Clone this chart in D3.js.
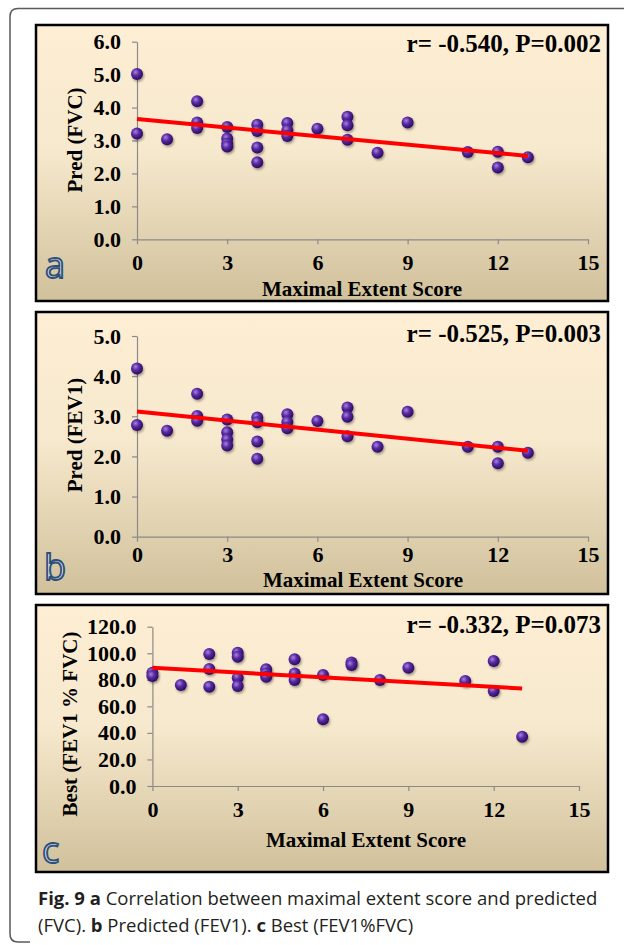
<!DOCTYPE html>
<html>
<head>
<meta charset="utf-8">
<script src="https://cdn.jsdelivr.net/npm/d3@7"></script>
<style>
  body { margin: 0; background: #fff; }
  svg { display: block; }
</style>
</head>
<body>
<script>
// values
var xTicks = [0, 3, 6, 9, 12, 15];

var scoreA = [0, 0, 1, 2, 2, 2, 3, 3, 3, 3, 4, 4, 4, 4, 5, 5, 5, 6, 7, 7, 7, 8, 9, 11, 12, 12, 13];
var predFVC = [5.02, 3.21, 3.04, 4.19, 3.55, 3.38, 3.41, 3.06, 2.90, 2.82, 3.48, 3.29, 2.79, 2.34,
    3.53, 3.31, 3.14, 3.36, 3.72, 3.46, 3.02, 2.63, 3.55, 2.65, 2.66, 2.18, 2.49];
var trendA = [3.65, 2.53];
var yTicksA = [0, 1, 2, 3, 4, 5, 6];

var scoreB = [0, 0, 1, 2, 2, 2, 3, 3, 3, 3, 4, 4, 4, 4, 5, 5, 5, 6, 7, 7, 7, 8, 9, 11, 12, 12, 13];
var predFEV1 = [4.19, 2.78, 2.64, 3.56, 3.01, 2.89, 2.92, 2.60, 2.42, 2.27, 2.97, 2.85, 2.37, 1.94,
    3.05, 2.86, 2.70, 2.88, 3.22, 2.99, 2.50, 2.24, 3.11, 2.24, 2.24, 1.83, 2.09];
var trendB = [3.12, 2.14];
var yTicksB = [0, 1, 2, 3, 4, 5];

var scoreC = [0, 0, 1, 2, 2, 2, 3, 3, 3, 3, 4, 4, 4, 5, 5, 5, 6, 6, 7, 7, 8, 9, 11, 12, 12, 13];
var bestRatio = [85.3, 82.8, 76.1, 99.4, 88.1, 74.8, 100.4, 97.4, 81.6, 75.3, 87.9, 84.8, 82.3,
    95.4, 84.8, 79.8, 83.6, 50.2, 93.1, 91.1, 79.8, 89.1, 79.1, 94.1, 71.5, 37.1];
var trendC = [89.1, 73.5];
var yTicksC = [0, 20, 40, 60, 80, 100, 120];

var trendX = [0, 13];
var panelLetters = ['a', 'b', 'c'];
var statLabels = ['r= -0.540, P=0.002', 'r= -0.525, P=0.003', 'r= -0.332, P=0.073'];
var yTitles = ['Pred (FVC)', 'Pred (FEV1)', 'Best (FEV1 % FVC)'];
var xTitle = 'Maximal Extent Score';

var W = 625, H = 945;
var serif = '"Liberation Serif", "Times New Roman", serif';

var svg = d3.select('body').append('svg')
    .attr('width', W)
    .attr('height', H);

var defs = svg.append('defs');
var bg = defs.append('linearGradient')
    .attr('id', 'panelBg')
    .attr('x1', 0).attr('y1', 0).attr('x2', 0).attr('y2', 1);
bg.append('stop').attr('offset', '0%').attr('stop-color', '#fdeed4');
bg.append('stop').attr('offset', '45%').attr('stop-color', '#f7e9cd');
bg.append('stop').attr('offset', '100%').attr('stop-color', '#d0c09b');

var ball = defs.append('radialGradient')
    .attr('id', 'ball')
    .attr('cx', '38%').attr('cy', '35%').attr('r', '65%');
ball.append('stop').attr('offset', '0%').attr('stop-color', '#a584e0');
ball.append('stop').attr('offset', '45%').attr('stop-color', '#5b2aa3');
ball.append('stop').attr('offset', '100%').attr('stop-color', '#2b0b5e');

var shadow = defs.append('filter').attr('id', 'shadow')
    .attr('x', '-50%').attr('y', '-50%').attr('width', '200%').attr('height', '200%');
shadow.append('feDropShadow')
    .attr('dx', 1.2).attr('dy', 1.8).attr('stdDeviation', 1.2)
    .attr('flood-color', '#000').attr('flood-opacity', 0.35);

var letterFill = defs.append('linearGradient')
    .attr('id', 'letterFill')
    .attr('x1', 0).attr('y1', 0).attr('x2', 0).attr('y2', 1);
letterFill.append('stop').attr('offset', '0%').attr('stop-color', '#e9f0f9');
letterFill.append('stop').attr('offset', '100%').attr('stop-color', '#b8cce6');

// outer frame of the figure
svg.append('path')
    .attr('d', 'M624,8.5 H18 Q10,8.5 10,16.5 V934 Q10,942 18,942 H30')
    .attr('fill', 'none')
    .attr('stroke', '#5a5a5a')
    .attr('stroke-width', 1.5);

var panels = [
    {box: [36, 25, 608, 301], ax: 137, ax1: 588, y0: 239.3, y1: 41.7, yMax: 6, yTicks: yTicksA,
        xs: scoreA, ys: predFVC, trend: trendA, statY: 52, tickY: 270, titleY: 296, titleX: 362,
        yTitleX: 75, yTitleY: 140, letterX: 45, letterY: 278},
    {box: [36, 312, 608, 594], ax: 137, ax1: 588, y0: 536.7, y1: 336, yMax: 5, yTicks: yTicksB,
        xs: scoreB, ys: predFEV1, trend: trendB, statY: 342, tickY: 562, titleY: 587, titleX: 363,
        yTitleX: 75, yTitleY: 435, letterX: 44, letterY: 580},
    {box: [36, 605, 608, 872], ax: 152.4, ax1: 579, y0: 786, y1: 626.7, yMax: 120, yTicks: yTicksC,
        xs: scoreC, ys: bestRatio, trend: trendC, statY: 633, tickY: 817, titleY: 847, titleX: 366,
        yTitleX: 70, yTitleY: 724, letterX: 42, letterY: 863}
];

panels.forEach(function (p, i) {
    var g = svg.append('g').attr('class', 'panel panel-' + panelLetters[i]);

    g.append('rect')
        .attr('x', p.box[0]).attr('y', p.box[1])
        .attr('width', p.box[2] - p.box[0])
        .attr('height', p.box[3] - p.box[1])
        .attr('fill', 'url(#panelBg)')
        .attr('stroke', '#000')
        .attr('stroke-width', 2.5);

    var x = d3.scaleLinear().domain([0, 15]).range([p.ax, p.ax1]);
    var y = d3.scaleLinear().domain([0, p.yMax]).range([p.y0, p.y1]);

    // axes
    var xAxis = g.append('g')
        .attr('class', 'x axis')
        .attr('transform', 'translate(0,' + p.y0 + ')')
        .call(d3.axisBottom(x).tickValues(xTicks).tickSizeInner(5).tickSizeOuter(0));
    xAxis.selectAll('text')
        .attr('y', p.tickY - p.y0)
        .attr('dy', 0);

    g.append('g')
        .attr('class', 'y axis')
        .attr('transform', 'translate(' + p.ax + ',0)')
        .call(d3.axisLeft(y).tickValues(p.yTicks).tickFormat(d3.format('.1f'))
            .tickSizeInner(5).tickSizeOuter(0).tickPadding(11));

    g.selectAll('.axis path, .axis line')
        .attr('stroke', '#8a8a8a')
        .attr('stroke-width', 1.2);
    g.selectAll('.axis text')
        .attr('fill', '#000')
        .style('font-family', serif)
        .style('font-weight', 'bold')
        .style('font-size', '22px');

    // points
    g.append('g').selectAll('circle')
        .data(p.xs)
        .enter()
        .append('circle')
        .attr('cx', function (d) { return x(d); })
        .attr('cy', function (d, j) { return y(p.ys[j]); })
        .attr('r', 6)
        .attr('fill', 'url(#ball)')
        .attr('filter', 'url(#shadow)');

    // trend line
    var line = d3.line()
        .x(function (d) { return x(d); })
        .y(function (d, j) { return y(p.trend[j]); });
    g.append('path')
        .datum(trendX)
        .attr('d', line)
        .attr('fill', 'none')
        .attr('stroke', '#ff0000')
        .attr('stroke-width', 4);

    // texts
    g.append('text')
        .attr('x', 601).attr('y', p.statY)
        .attr('text-anchor', 'end')
        .style('font-family', serif)
        .style('font-weight', 'bold')
        .style('font-size', '25px')
        .text(statLabels[i]);

    g.append('text')
        .attr('x', p.titleX).attr('y', p.titleY)
        .attr('text-anchor', 'middle')
        .style('font-family', serif)
        .style('font-weight', 'bold')
        .style('font-size', '21px')
        .text(xTitle);

    g.append('text')
        .attr('transform', 'translate(' + p.yTitleX + ',' + p.yTitleY + ') rotate(-90)')
        .attr('text-anchor', 'middle')
        .attr('dy', '0.35em')
        .style('font-family', serif)
        .style('font-weight', 'bold')
        .style('font-size', '21px')
        .text(yTitles[i]);

    g.append('text')
        .attr('x', p.letterX).attr('y', p.letterY)
        .style('font-family', '"Open Sans", sans-serif')
        .style('font-size', '36px')
        .attr('fill', 'url(#letterFill)')
        .attr('stroke', '#2d4e78')
        .attr('stroke-width', 1.8)
        .text(panelLetters[i]);
});

// caption
var cap = svg.append('g')
    .style('font-family', '"Open Sans", sans-serif')
    .style('font-size', '18.5px')
    .attr('fill', '#231f20');

var line1 = cap.append('text').attr('x', 38).attr('y', 905);
line1.append('tspan').style('font-weight', 'bold').text('Fig. 9 a');
line1.append('tspan').text(' Correlation between maximal extent score and predicted');

var line2 = cap.append('text').attr('x', 38).attr('y', 932);
line2.append('tspan').text('(FVC). ');
line2.append('tspan').style('font-weight', 'bold').text('b');
line2.append('tspan').text(' Predicted (FEV1). ');
line2.append('tspan').style('font-weight', 'bold').text('c');
line2.append('tspan').text(' Best (FEV1%FVC)');
</script>
</body>
</html>
